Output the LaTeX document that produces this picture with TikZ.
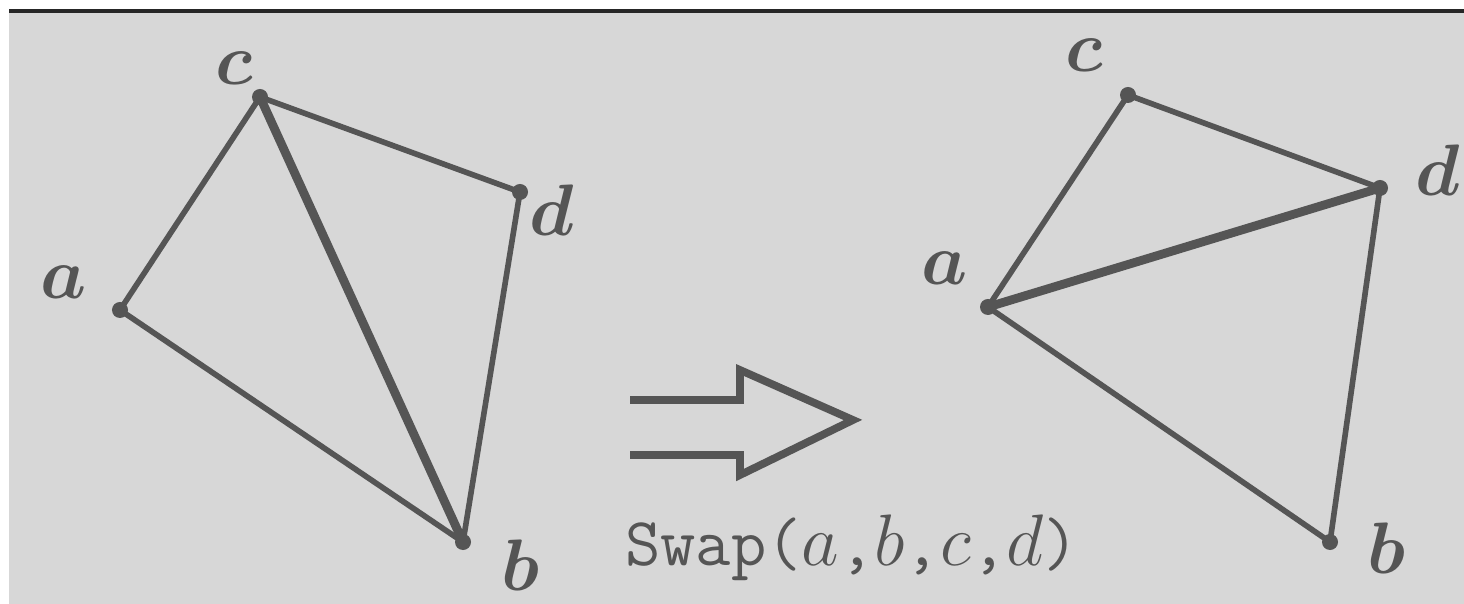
\documentclass[tikz,border=0pt]{standalone}
\usepackage{tikz}
\definecolor{bggray}{HTML}{D7D7D7}
\definecolor{edgegray}{HTML}{555555}
\begin{document}
\begin{tikzpicture}[x=0.01cm, y=-0.01cm,
        vertex/.style={circle, fill=edgegray, inner sep=0pt, minimum size=0.16cm},
        vlabel/.style={font=\fontsize{22}{22}\selectfont\boldmath, text=edgegray},
        edge/.style={draw=edgegray, line width=1.6pt, line cap=round},
        flipped/.style={draw=edgegray, line width=2.5pt, line cap=round},
    ]
    \useasboundingbox (0,0) rectangle (1464,604);
    % Background and top rule
    \fill[bggray] (9,11) rectangle (1464,604);
    \fill[black!85] (9,9) rectangle (1464,13);

    % === Before: diagonal cb ===
    \node[vertex] (a1) at (120,310) {};
    \node[vertex] (c1) at (260,97) {};
    \node[vertex] (d1) at (520,192) {};
    \node[vertex] (b1) at (463,542) {};
    \node[vlabel] at (64,282) {$a$};
    \node[vlabel] at (234,68) {$c$};
    \node[vlabel] at (552,210) {$d$};
    \node[vlabel] at (520,565) {$b$};
    \draw[edge] (a1.center) -- (c1.center) -- (d1.center) -- (b1.center) -- (a1.center);
    \draw[flipped] (c1.center) -- (b1.center);

    % === Swap arrow ===
    \draw[edgegray, line width=2.2pt, line join=miter]
        (630,400) -- (740,400) -- (740,370) -- (853,420) -- (740,475) -- (740,455) -- (630,455);
    \node[text=edgegray, font=\fontsize{19.5}{19.5}\selectfont] (swap) at (852,548) {\ttfamily Swap($a$,$b$,$c$,$d$)};

    % === After: diagonal ad ===
    \node[vertex] (a2) at (988,307) {};
    \node[vertex] (c2) at (1128,95) {};
    \node[vertex] (d2) at (1380,188) {};
    \node[vertex] (b2) at (1330,542) {};
    \node[vlabel] at (945,268) {$a$};
    \node[vlabel] at (1084,55) {$c$};
    \node[vlabel] at (1438,170) {$d$};
    \node[vlabel] at (1386,548) {$b$};
    \draw[edge] (a2.center) -- (c2.center) -- (d2.center) -- (b2.center) -- (a2.center);
    \draw[flipped] (a2.center) -- (d2.center);
\end{tikzpicture}
\end{document}
